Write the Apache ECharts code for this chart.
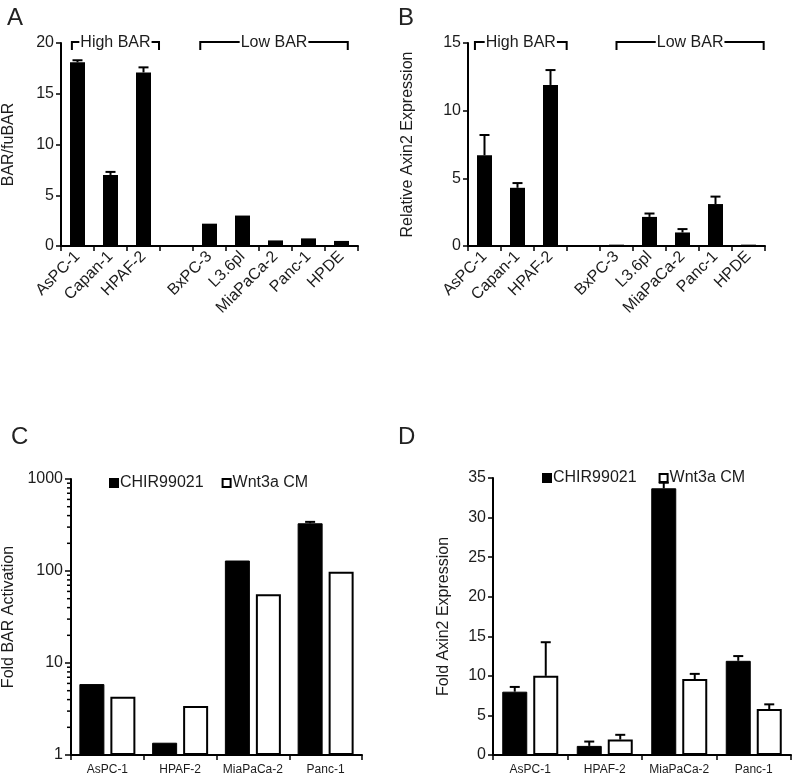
<!DOCTYPE html>
<html>
<head>
<meta charset="utf-8">
<script src="https://cdn.jsdelivr.net/npm/echarts@6/dist/echarts.min.js"></script>
<style>
html,body{margin:0;padding:0;background:#fff;}
#chart{width:800px;height:783px;}
</style>
</head>
<body>
<div id="chart"></div>
<script>
// ---------- data ----------
const catsAB = ['AsPC-1', 'Capan-1', 'HPAF-2', '', 'BxPC-3', 'L3.6pl', 'MiaPaCa-2', 'Panc-1', 'HPDE'];
const barA = [18.1, 7.0, 17.1, null, 2.2, 3.0, 0.55, 0.75, 0.5];
const errA = [0.2, 0.3, 0.5, null, 0, 0, 0, 0, 0];
const barB = [6.7, 4.3, 11.9, null, 0.1, 2.15, 1.0, 3.1, 0.1];
const errB = [1.5, 0.35, 1.1, null, 0, 0.25, 0.25, 0.55, 0];

const catsCD = ['AsPC-1', 'HPAF-2', 'MiaPaCa-2', 'Panc-1'];
const chirC = [5.9, 1.36, 130, 330];
const chirCErr = [0, 0, 0, 12];
const wntC = [4.3, 3.4, 56, 98];
const wntCErr = [0, 0, 0, 0];
const chirD = [8.0, 1.15, 33.7, 11.9];
const chirDErr = [0.6, 0.55, 0.7, 0.6];
const wntD = [10.0, 1.95, 9.6, 5.8];
const wntDErr = [4.25, 0.6, 0.65, 0.6];

const logMinorTicks = [2,3,4,5,6,7,8,9,20,30,40,50,60,70,80,90,200,300,400,500,600,700,800,900];
const seriesNames = ['CHIR99021', 'Wnt3a CM'];

// ---------- styles ----------
const TXT = '#1c1c1c';
const FONT = 'Liberation Sans, Arial, sans-serif';
const grids = [
  {left: 60, top: 43, width: 298, height: 203},
  {left: 468, top: 43, width: 297, height: 203},
  {left: 68, top: 479, width: 294, height: 276},
  {left: 493, top: 478, width: 298, height: 277}
];
const pairBarWidth = 25, pairGap = 0.24;
const pairOffset = (pairBarWidth * (1 + pairGap)) / 2;

function errRender(offset, capHalf) {
  return function (params, api) {
    const i = api.value(0), v = api.value(1), e = api.value(2);
    const base = api.coord([i, v]);
    const top = api.coord([i, v + e]);
    const cx = base[0] + offset;
    return {
      type: 'group',
      children: [
        {type: 'line', shape: {x1: cx, y1: base[1], x2: cx, y2: top[1]}, style: {stroke: '#000', lineWidth: 2}},
        {type: 'line', shape: {x1: cx - capHalf, y1: top[1], x2: cx + capHalf, y2: top[1]}, style: {stroke: '#000', lineWidth: 2}}
      ]
    };
  };
}
function errData(vals, errs) {
  const out = [];
  vals.forEach((v, i) => { if (v != null && errs[i] > 0) out.push([i, v, errs[i]]); });
  return out;
}

function xAxisAB(gi) {
  return {
    type: 'category', gridIndex: gi, data: catsAB,
    axisLine: {lineStyle: {color: '#000', width: 2}},
    axisTick: {show: true, length: 5, lineStyle: {color: '#000', width: 1.5}},
    axisLabel: {rotate: 45, fontSize: 16, color: TXT, fontFamily: FONT, margin: 8, interval: 0}
  };
}
function yAxisVal(gi, max, interval, name, gap) {
  return {
    type: 'value', gridIndex: gi, min: 0, max: max, interval: interval,
    name: name, nameLocation: 'middle', nameGap: gap,
    nameTextStyle: {fontSize: 16, color: TXT, fontFamily: FONT},
    axisLine: {show: true, lineStyle: {color: '#000', width: 2}},
    axisTick: {show: true, length: 5, lineStyle: {color: '#000', width: 1.5}},
    axisLabel: {fontSize: 16, color: TXT, fontFamily: FONT, margin: 7},
    splitLine: {show: false}
  };
}
function xAxisCD(gi) {
  return {
    type: 'category', gridIndex: gi, data: catsCD,
    axisLine: {lineStyle: {color: '#000', width: 2}},
    axisTick: {show: true, length: 5, lineStyle: {color: '#000', width: 1.5}},
    axisLabel: {fontSize: 12, color: TXT, fontFamily: FONT, margin: 9, interval: 0}
  };
}

const chart = echarts.init(document.getElementById('chart'), null, {renderer: 'canvas'});

const option = {
  animation: false,
  backgroundColor: '#fff',
  textStyle: {fontFamily: FONT},
  grid: grids.map(g => Object.assign({containLabel: false}, g)),
  legend: [
    {
      data: seriesNames, left: 104, top: 470, itemWidth: 8, itemHeight: 8, itemGap: 18, icon: 'rect',
      textStyle: {fontSize: 16, color: TXT, fontFamily: FONT, padding: [0, 0, 0, -3]}, selectedMode: false
    },
    {
      data: seriesNames, left: 537, top: 465, itemWidth: 8, itemHeight: 8, itemGap: 22, icon: 'rect',
      textStyle: {fontSize: 16, color: TXT, fontFamily: FONT, padding: [0, 0, 0, -3]}, selectedMode: false
    }
  ],
  xAxis: [xAxisAB(0), xAxisAB(1), xAxisCD(2), xAxisCD(3)],
  yAxis: [
    yAxisVal(0, 20, 5, 'BAR/fuBAR', 44),
    yAxisVal(1, 15, 5, 'Relative Axin2 Expression', 52),
    {
      type: 'log', gridIndex: 2, logBase: 10, min: 1, max: 1000,
      name: 'Fold BAR Activation', nameLocation: 'middle', nameGap: 54,
      nameTextStyle: {fontSize: 16, color: TXT, fontFamily: FONT},
      axisLine: {show: true, lineStyle: {color: '#000', width: 2}},
      axisTick: {show: true, length: 6, lineStyle: {color: '#000', width: 1.5}},
      axisLabel: {fontSize: 16, color: TXT, fontFamily: FONT, margin: 8, formatter: v => String(Math.round(v))},
      splitLine: {show: false}
    },
    yAxisVal(3, 35, 5, 'Fold Axin2 Expression', 41)
  ],
  series: [
    {type: 'bar', xAxisIndex: 0, yAxisIndex: 0, data: barA, barWidth: 15, itemStyle: {color: '#000'}},
    {type: 'custom', xAxisIndex: 0, yAxisIndex: 0, renderItem: errRender(0, 5), data: errData(barA, errA), silent: true, z: 5},
    {type: 'bar', xAxisIndex: 1, yAxisIndex: 1, data: barB, barWidth: 15, itemStyle: {color: '#000'}},
    {type: 'custom', xAxisIndex: 1, yAxisIndex: 1, renderItem: errRender(0, 5), data: errData(barB, errB), silent: true, z: 5},

    {name: 'CHIR99021', type: 'bar', xAxisIndex: 2, yAxisIndex: 2, data: chirC, barWidth: pairBarWidth, barGap: (pairGap * 100) + '%',
      itemStyle: {color: '#000', borderColor: '#000', borderWidth: 1}},
    {name: 'Wnt3a CM', type: 'bar', xAxisIndex: 2, yAxisIndex: 2, data: wntC, barWidth: pairBarWidth, barGap: (pairGap * 100) + '%',
      itemStyle: {color: '#fff', borderColor: '#000', borderWidth: 2}},
    {type: 'custom', xAxisIndex: 2, yAxisIndex: 2, renderItem: errRender(-pairOffset, 5), data: errData(chirC, chirCErr), silent: true, z: 5},
    {type: 'custom', xAxisIndex: 2, yAxisIndex: 2, renderItem: errRender(pairOffset, 5), data: errData(wntC, wntCErr), silent: true, z: 5},
    {
      type: 'custom', xAxisIndex: 2, yAxisIndex: 2, silent: true, z: 6,
      data: logMinorTicks.map(v => [0, v]),
      renderItem: function (params, api) {
        const y = api.coord([0, api.value(1)])[1];
        const x = params.coordSys.x;
        return {type: 'line', shape: {x1: x - 4, y1: y, x2: x, y2: y}, style: {stroke: '#000', lineWidth: 1.5}};
      }
    },

    {name: 'CHIR99021', type: 'bar', xAxisIndex: 3, yAxisIndex: 3, data: chirD, barWidth: pairBarWidth, barGap: (pairGap * 100) + '%',
      itemStyle: {color: '#000', borderColor: '#000', borderWidth: 1}},
    {name: 'Wnt3a CM', type: 'bar', xAxisIndex: 3, yAxisIndex: 3, data: wntD, barWidth: pairBarWidth, barGap: (pairGap * 100) + '%',
      itemStyle: {color: '#fff', borderColor: '#000', borderWidth: 2}},
    {type: 'custom', xAxisIndex: 3, yAxisIndex: 3, renderItem: errRender(-pairOffset, 5), data: errData(chirD, chirDErr), silent: true, z: 5},
    {type: 'custom', xAxisIndex: 3, yAxisIndex: 3, renderItem: errRender(pairOffset, 5), data: errData(wntD, wntDErr), silent: true, z: 5}
  ]
};
chart.setOption(option);

// ---------- annotations (panel letters and group brackets) ----------
const panelLetters = [
  {t: 'A', x: 7, y: 6}, {t: 'B', x: 398, y: 6}, {t: 'C', x: 11, y: 425}, {t: 'D', x: 398, y: 425}
];
const brackets = [
  {grid: 0, yMax: 20, label: 'High BAR', from: -0.17, to: 2.47},
  {grid: 0, yMax: 20, label: 'Low BAR', from: 3.72, to: 8.19},
  {grid: 1, yMax: 15, label: 'High BAR', from: -0.29, to: 2.49},
  {grid: 1, yMax: 15, label: 'Low BAR', from: 4.0, to: 8.46}
];
const graphics = [];
panelLetters.forEach(p => graphics.push({
  type: 'text', left: p.x, top: p.y,
  style: {text: p.t, fontSize: 24, fontFamily: FONT, fill: '#222'}
}));
brackets.forEach(b => {
  const p0 = chart.convertToPixel({gridIndex: b.grid}, [0, b.yMax]);
  const p1 = chart.convertToPixel({gridIndex: b.grid}, [1, b.yMax]);
  const cw = p1[0] - p0[0];
  const x1 = p0[0] + b.from * cw, x2 = p0[0] + b.to * cw, y = p0[1] - 1;
  graphics.push({type: 'polyline', shape: {points: [[x1, y + 8], [x1, y], [x2, y], [x2, y + 8]]},
    style: {stroke: '#000', lineWidth: 2, fill: null}, z: 10});
  graphics.push({type: 'text', x: (x1 + x2) / 2, y: y + 1, z: 11,
    style: {text: b.label, fontSize: 16, fontFamily: FONT, fill: TXT, align: 'center', verticalAlign: 'middle',
      backgroundColor: '#fff', padding: [0, 1]}});
});
chart.setOption({graphic: graphics});
</script>
</body>
</html>
